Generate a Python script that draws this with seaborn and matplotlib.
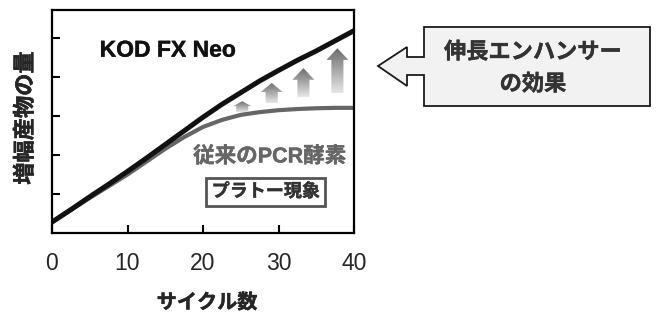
import numpy as np
import pandas as pd
import seaborn as sns
import matplotlib.pyplot as plt
import matplotlib.patheffects as pe
from matplotlib.patches import Polygon
from matplotlib.colors import LinearSegmentedColormap

# values
cycles = [0, 2.5, 5, 7.5, 10, 12.5, 15, 17.5, 20, 22.5, 25, 27.5, 30, 32.5, 35, 37.5, 40]
kod_fx_neo = [0.28, 0.6, 0.93, 1.25, 1.58, 1.92, 2.27, 2.62, 2.97, 3.3, 3.6, 3.9, 4.17, 4.43, 4.67, 4.93, 5.19]
conventional = [0.28, 0.59, 0.9, 1.2, 1.5, 1.83, 2.16, 2.46, 2.72, 2.9, 3.03, 3.1, 3.15, 3.18, 3.2, 3.21, 3.21]
series_names = ["KOD FX Neo", "従来のPCR酵素"]

x_ticks = [0, 10, 20, 30, 40]
y_ticks = [1, 2, 3, 4, 5]

# enhancer arrows: x centre, bottom, top (data units)
arrow_x = [25.2, 29.1, 33.3, 37.8]
arrow_bottom = [3.10, 3.33, 3.49, 3.59]
arrow_top = [3.38, 3.85, 4.23, 4.74]

df = pd.DataFrame({
    "cycle": cycles * 2,
    "amount": kod_fx_neo + conventional,
    "enzyme": [series_names[0]] * len(cycles) + [series_names[1]] * len(cycles),
})

sns.set_style("white")
plt.rcParams['font.family'] = ['Liberation Sans', 'Noto Sans CJK JP']

W, H = 657, 317
fig = plt.figure(figsize=(W / 100, H / 100), dpi=100)
ax = fig.add_axes([52 / W, 1 - 233 / H, 302 / W, 223 / H])

sns.lineplot(data=df[df.enzyme == series_names[1]], x="cycle", y="amount",
             color="#666666", linewidth=3.0, ax=ax)
sns.lineplot(data=df[df.enzyme == series_names[0]], x="cycle", y="amount",
             color="#111111", linewidth=3.6, ax=ax)

ax.set_xlim(0, 40)
ax.set_ylim(0, 5.72)
ax.set_xticks(x_ticks)
ax.set_yticks(y_ticks)
ax.set_yticklabels([])
ax.tick_params(axis="both", direction="in", length=6, width=1.5, color="black",
               bottom=True, left=True)
ax.tick_params(axis="x", pad=14, labelsize=16.5)
for s in ax.spines.values():
    s.set_color("black")
    s.set_linewidth(1.6)


def heavy(color, w=0.3):
    return [pe.withStroke(linewidth=w, foreground=color)]


ax.set_xlabel("")
ax.set_ylabel("")
fig.text(207 / W, 1 - 303 / H, "サイクル数", ha="center", va="center", fontsize=14.5,
         fontweight="bold", path_effects=heavy("#111111"))
fig.text(26 / W, 1 - 118 / H, "増幅産物の量", ha="center", va="center", rotation=90,
         fontsize=16, fontweight="bold", path_effects=heavy("#111111"))

# gradient arrows
cmap = LinearSegmentedColormap.from_list("arr", ["#e6e6e6", "#6c6c6c"])
grad = np.linspace(0, 1, 100).reshape(-1, 1)
for xc, yb, yt in zip(arrow_x, arrow_bottom, arrow_top):
    length = yt - yb
    head_len = min(0.3, 0.45 * length)
    shaft_hw = 0.8
    head_hw = 1.45 if length > 0.4 else 1.2
    pts = [(xc - shaft_hw, yb), (xc + shaft_hw, yb), (xc + shaft_hw, yt - head_len),
           (xc + head_hw, yt - head_len), (xc, yt), (xc - head_hw, yt - head_len),
           (xc - shaft_hw, yt - head_len)]
    poly = Polygon(pts, closed=True, fc="none", ec="none")
    ax.add_patch(poly)
    im = ax.imshow(grad, cmap=cmap, origin="lower", aspect="auto",
                   extent=[xc - head_hw, xc + head_hw, yb, yt], zorder=3)
    im.set_clip_path(poly)

ax.set_xlim(0, 40)
ax.set_ylim(0, 5.72)

ax.text(15.3, 4.69, "KOD FX Neo", ha="center", va="center", fontsize=16.5, fontweight="bold",
        color="#111111", path_effects=heavy("#111111"))
ax.text(28.8, 1.95, "従来のPCR酵素", ha="center", va="center", fontsize=15.5, fontweight="bold",
        color="#666666", path_effects=heavy("#666666"))
ax.text(28.3, 1.05, "プラトー現象", ha="center", va="center", fontsize=13, fontweight="bold",
        color="#333333", path_effects=heavy("#333333"),
        bbox=dict(boxstyle="square,pad=0.3", fc="white", ec="#555555", lw=2))

# callout box on the right
outline = [(650, 27), (424, 27), (424, 57), (407, 57), (407, 47), (378, 66), (407, 86),
           (407, 75), (424, 75), (424, 106), (650, 106)]
callout = Polygon([(px / W, 1 - py / H) for px, py in outline], closed=True,
                  fc="#f2f2f2", ec="#1a1a1a", lw=1.3, transform=fig.transFigure)
fig.patches.append(callout)
fig.text(533 / W, 1 - 53 / H, "伸長エンハンサー", ha="center", va="center", fontsize=16,
         fontweight="bold", color="#333333", path_effects=heavy("#333333"))
fig.text(533 / W, 1 - 85 / H, "の効果", ha="center", va="center", fontsize=16,
         fontweight="bold", color="#333333", path_effects=heavy("#333333"))

fig.savefig("out.png", dpi=100)
